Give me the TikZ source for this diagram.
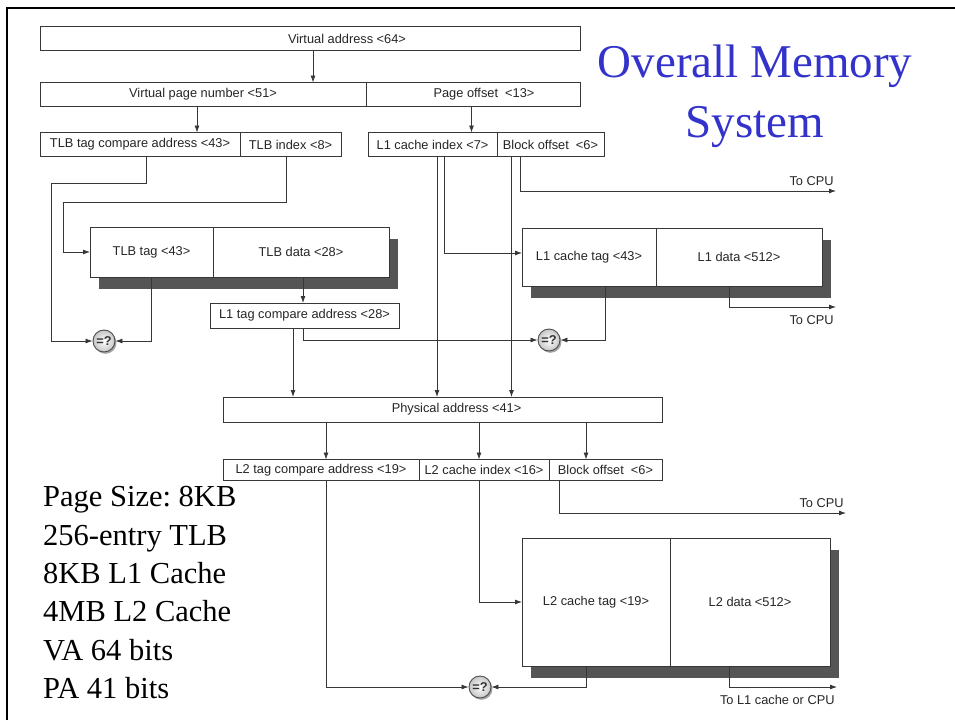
\documentclass[tikz,border=0pt]{standalone}
\usepackage{fontspec}
\setmainfont{Liberation Serif}
\newfontfamily\diagsans{Liberation Sans}
\usetikzlibrary{arrows.meta, positioning, shadows}
\frenchspacing

\definecolor{titleblue}{RGB}{51,51,204}
\definecolor{shadowgray}{RGB}{85,85,85}
\definecolor{linegray}{RGB}{55,55,55}

\newcommand{\boxfont}{\diagsans\fontsize{12.8}{15}\selectfont}
\newcommand{\titlefont}{\fontsize{47}{60}\selectfont}
\newcommand{\specfont}{\fontsize{30.5}{38.3}\selectfont}

\begin{document}
\begin{tikzpicture}[
  x=1pt, y=-1pt,
  field/.style={rectangle, draw=linegray, fill=white, line width=0.8pt,
                minimum height=24pt, inner sep=0pt, outer sep=0pt,
                font=\boxfont, text=black!85},
  cell/.style={field, general shadow={fill=shadowgray, shadow xshift=9pt, shadow yshift=-12pt}},
  cmp/.style={circle, draw=gray!60!black, line width=0.9pt, inner color=white, outer color=gray!45,
              minimum size=22pt, inner sep=0pt, font=\boxfont\bfseries, text=black!80,
              general shadow={fill=gray!70, shadow xshift=1.5pt, shadow yshift=-1.8pt}},
  arrow/.style={-{Latex[length=7pt, width=5pt]}, draw=linegray, line width=0.8pt},
  tag/.style={font=\boxfont, text=black!85, inner sep=2pt}
]
\useasboundingbox (0,0) rectangle (955,720);

% slide frame
\draw[line width=2.5pt] (7,720) -- (7,8) -- (955,8);

% title and notes
\node[font=\titlefont, text=titleblue, align=center, anchor=north, inner sep=0pt] (title) at (755,44.5) {Overall Memory\\System};
\node[font=\specfont, align=left, anchor=north west, inner sep=0pt] (specs) at (43,486.5)
  {Page Size: 8KB\\256-entry TLB\\8KB L1 Cache\\4MB L2 Cache\\VA 64 bits\\PA 41 bits};

% virtual address fields
\node[field, minimum width=540] (va) at (310,38.5) {\hspace*{74pt}Virtual address <64>};
\node[field, minimum width=326] (vpn) at (203,94.5) {Virtual page number <51>};
\node[field, minimum width=214, right=0pt of vpn] (pgoff) {\hspace*{22pt}Page offset~ <13>};
\node[field, minimum width=200] (tlbcmp) at (140,144.5) {TLB tag compare address <43>};
\node[field, minimum width=101, right=0pt of tlbcmp] (tlbidx) {TLB index <8>};
\node[field, minimum width=129] (l1idx) at (432.5,144.5) {L1 cache index <7>};
\node[field, minimum width=107, right=0pt of l1idx] (l1blk) {Block offset~ <6>};

% TLB and L1
\node[cell, minimum width=123, minimum height=50] (tlbtg) at (151.5,252) {TLB tag <43>};
\node[cell, minimum width=176, minimum height=50, right=0pt of tlbtg] (tlbdat) {TLB data <28>};
\node[field, minimum width=189, minimum height=25] (l1cmp) at (304.5,315.5) {L1 tag compare address <28>};
\node[cmp] (cmp1) at (104,341) {=?};
\node[cell, minimum width=134, minimum height=58] (l1tg) at (589,257) {L1 cache tag <43>};
\node[cell, minimum width=166, minimum height=58, right=0pt of l1tg] (l1dat) {L1 data <512>};
\node[cmp] (cmp2) at (549,340) {=?};

% physical address and L2
\node[field, minimum width=439, minimum height=25] (pa) at (442.5,409.5) {\hspace*{28pt}Physical address <41>};
\node[field, minimum width=196, minimum height=21] (l2cmp) at (321,470) {L2 tag compare address <19>};
\node[field, minimum width=130, minimum height=21, right=0pt of l2cmp] (l2idx) {L2 cache index <16>};
\node[field, minimum width=113, minimum height=21, right=0pt of l2idx] (l2blk) {Block offset~ <6>};
\node[cell, minimum width=148, minimum height=128] (l2tg) at (596,602) {L2 cache tag <19>};
\node[cell, minimum width=160, minimum height=128, right=0pt of l2tg] (l2dat) {L2 data <512>};
\node[cmp] (cmp3) at (480,687) {=?};

\coordinate (cpu1) at (836,191);
\coordinate (cpu2) at (836,307);
\coordinate (cpu3) at (846,513);
\coordinate (cpu4) at (837,687);

% connectors
\draw[arrow] ([xshift=3]va.south) -- ([xshift=3]va.south |- vpn.north);
\draw[arrow] ([xshift=-6]vpn.south) -- ([xshift=-6]vpn.south |- tlbcmp.north);
\draw[arrow] ([xshift=-1.5]pgoff.south) -- ([xshift=-1.5]pgoff.south |- l1idx.north);

\draw[arrow] ([xshift=6]tlbcmp.south) -- ++(0,27) -- ++(-95,0) |- (cmp1);
\draw[arrow] ([xshift=-4.5]tlbidx.south) -- ++(0,46) -- ++(-223,0) |- (tlbtg.west);
\draw[arrow] (tlbtg.south) |- (cmp1);
\draw[arrow] ([xshift=2]tlbdat.south) -- ([xshift=2]tlbdat.south |- l1cmp.north);

\draw[arrow] ([xshift=-11.5]l1cmp.south) -- ([xshift=-11.5]l1cmp.south |- pa.north);
\draw[arrow] ([xshift=-1]l1cmp.south) |- (cmp2);
\draw[arrow] ([xshift=4.5]l1idx.south) -- ([xshift=4.5]l1idx.south |- pa.north);
\draw[arrow] ([xshift=12]l1idx.south) |- ([yshift=4]l1tg.west);
\draw[arrow] ([xshift=-39]l1blk.south) -- ([xshift=-39]l1blk.south |- pa.north);
\draw[arrow] ([xshift=-30.5]l1blk.south) |- (cpu1) node[tag, above left, yshift=3]{To CPU};
\draw[arrow] ([xshift=16]l1tg.south) |- (cmp2);
\draw[arrow] ([xshift=-10]l1dat.south) |- (cpu2) node[tag, below left, yshift=-6]{To CPU};

\draw[arrow] ([xshift=-116.5]pa.south) -- ([xshift=-116.5]pa.south |- l2cmp.north);
\draw[arrow] ([xshift=36.5]pa.south) -- ([xshift=36.5]pa.south |- l2idx.north);
\draw[arrow] ([xshift=143.5]pa.south) -- ([xshift=143.5]pa.south |- l2blk.north);

\draw[arrow] ([xshift=5]l2cmp.south) |- (cmp3);
\draw[arrow] ([xshift=-5]l2idx.south) |- (l2tg.west);
\draw[arrow] ([xshift=-46.5]l2blk.south) |- (cpu3) node[tag, above left, yshift=3]{To CPU};
\draw[arrow] ([xshift=-10]l2tg.south) |- (cmp3);
\draw[arrow] ([xshift=-21]l2dat.south) |- (cpu4) node[tag, below left, yshift=-6]{To L1 cache or CPU};

\end{tikzpicture}
\end{document}
